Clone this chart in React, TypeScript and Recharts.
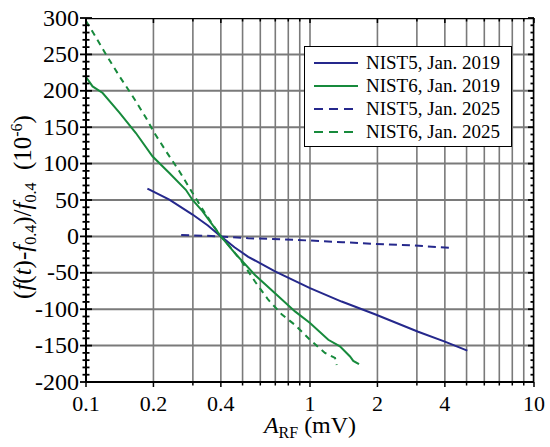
import React from "react";
import { LineChart, Line, XAxis, YAxis, CartesianGrid } from "recharts";

// ---- data ----
const nist5_2019 = [
  { x: 0.188, y: 65.7 }, { x: 0.2355, y: 50.5 }, { x: 0.299, y: 30 }, { x: 0.35, y: 15 },
  { x: 0.4, y: 0 }, { x: 0.46, y: -15 }, { x: 0.53, y: -28 }, { x: 0.698, y: -48 },
  { x: 1.0, y: -71 }, { x: 1.384, y: -89.5 }, { x: 1.95, y: -107 }, { x: 3.04, y: -131 },
  { x: 4.0, y: -144.5 }, { x: 5.04, y: -157 },
];
const nist6_2019 = [
  { x: 0.1, y: 219 }, { x: 0.107, y: 206 }, { x: 0.1187, y: 197 }, { x: 0.141, y: 170 },
  { x: 0.167, y: 142 }, { x: 0.198, y: 110 }, { x: 0.2355, y: 87 }, { x: 0.279, y: 64 },
  { x: 0.299, y: 50 }, { x: 0.331, y: 34.6 }, { x: 0.4, y: 0 }, { x: 0.462, y: -23 },
  { x: 0.568, y: -53 }, { x: 0.698, y: -78 }, { x: 0.857, y: -103 }, { x: 1.0, y: -119 },
  { x: 1.207, y: -142 }, { x: 1.36, y: -151 }, { x: 1.509, y: -165 }, { x: 1.56, y: -171 },
  { x: 1.655, y: -175.6 },
];
const nist5_2025 = [
  { x: 0.266, y: 2 }, { x: 0.33, y: 1 }, { x: 0.4, y: 0 }, { x: 0.53, y: -2.5 },
  { x: 0.75, y: -4 }, { x: 1.0, y: -5.7 }, { x: 1.4, y: -8 }, { x: 1.95, y: -10.3 },
  { x: 2.94, y: -12.6 }, { x: 4.29, y: -15.8 },
];
const nist6_2025 = [
  { x: 0.1, y: 296 }, { x: 0.111, y: 273 }, { x: 0.1228, y: 250 }, { x: 0.141, y: 220 },
  { x: 0.1615, y: 192.6 }, { x: 0.1852, y: 163 }, { x: 0.202, y: 142 }, { x: 0.2277, y: 117 },
  { x: 0.261, y: 89.5 }, { x: 0.299, y: 59.7 }, { x: 0.343, y: 30 }, { x: 0.4, y: 0 },
  { x: 0.432, y: -11.7 }, { x: 0.496, y: -34.6 }, { x: 0.568, y: -62 }, { x: 0.651, y: -87 },
  { x: 0.747, y: -107 }, { x: 0.857, y: -121.6 }, { x: 1.0, y: -142 }, { x: 1.166, y: -160 },
  { x: 1.293, y: -167 }, { x: 1.316, y: -176.5 },
];

const X_ALL = [0.1, 0.2, 0.3, 0.4, 0.5, 0.6, 0.7, 0.8, 0.9, 1, 2, 3, 4, 5, 6, 7, 8, 9, 10];
const X_LABELS = [0.1, 0.2, 0.4, 1, 2, 4, 10];
const X_DOMAIN = [0.1, 10];
const Y_DOMAIN = [-200, 300];
const Y_LABELS = [-200, -150, -100, -50, 0, 50, 100, 150, 200, 250, 300];
const Y_GRID = [-150, -100, -50, 0, 50, 100, 150, 200, 250];
const Y_ALL = Array.from({ length: 51 }, (_, i) => -200 + i * 10);

// layout
const W = 550;
const H = 447;
const MARGIN = { top: 18, right: 16, bottom: 0, left: 0 };
const Y_AXIS_W = 86;
const X_AXIS_H = 65;
const PLOT_W = W - MARGIN.left - MARGIN.right - Y_AXIS_W;
const PLOT_H = H - MARGIN.top - MARGIN.bottom - X_AXIS_H;

const BLUE = "#25288c";
const GREEN = "#178a3c";
const GRID = "#7a7a7a";
const FONT = "Liberation Serif, Tinos, Times New Roman, DejaVu Serif, serif";

const SERIES = [
  { name: "NIST5, Jan. 2019", data: nist5_2019, color: BLUE, dash: undefined as string | undefined },
  { name: "NIST6, Jan. 2019", data: nist6_2019, color: GREEN, dash: undefined as string | undefined },
  { name: "NIST5, Jan. 2025", data: nist5_2025, color: BLUE, dash: "8 5" },
  { name: "NIST6, Jan. 2025", data: nist6_2025, color: GREEN, dash: "6 5" },
];

// horizontal grid rows and frame edges as two-point series through the chart's scales
const GRID_ROWS = Y_GRID.map((v) => ({ key: `g${v}`, data: X_DOMAIN.map((x) => ({ x, y: v })) }));
const FRAME_TOP = X_DOMAIN.map((x) => ({ x, y: Y_DOMAIN[1] }));
const FRAME_RIGHT = Y_DOMAIN.map((y) => ({ x: X_DOMAIN[1], y }));

const isMajorY = (v: number) => Y_LABELS.includes(v);
const isMajorX = (v: number) => X_LABELS.includes(v);

const LeftTick = (props: any) => {
  const { x, y, payload } = props;
  const v = payload.value;
  const major = isMajorY(v);
  const len = major ? 6 : 3.5;
  return (
    <g>
      <line x1={x - len} x2={x + len} y1={y} y2={y} stroke="#000" strokeWidth={1.8} />
      <line x1={x + PLOT_W - len} x2={x + PLOT_W} y1={y} y2={y} stroke="#000" strokeWidth={1.8} />
      {major && (
        <text x={x - 7} y={y} dy={7.5} textAnchor="end" style={{ fontFamily: FONT }} fontSize={24} fill="#000">
          {v}
        </text>
      )}
    </g>
  );
};

const BottomTick = (props: any) => {
  const { x, y, payload } = props;
  const v = payload.value;
  const major = isMajorX(v);
  const len = major ? 5 : 3.5;
  return (
    <g>
      <line x1={x} x2={x} y1={y} y2={y + len} stroke="#000" strokeWidth={1.5} />
      <line x1={x} x2={x} y1={y - PLOT_H} y2={y - PLOT_H + len} stroke="#000" strokeWidth={1.5} />
      {major && (
        <text x={x} y={y} dy={28.5} textAnchor="middle" style={{ fontFamily: FONT }} fontSize={22} fill="#000">
          {v}
        </text>
      )}
    </g>
  );
};

const YTitle = (props: any) => {
  const vb = props.viewBox;
  const cx = vb.x + 31;
  const cy = vb.y + vb.height / 2 + 7;
  return (
    <text
      transform={`translate(${cx},${cy}) rotate(-90)`}
      textAnchor="middle"
      fontSize={25}
      fill="#000"
      style={{ whiteSpace: "pre", fontFamily: FONT }}
    >
      <tspan>(</tspan>
      <tspan fontStyle="italic">f</tspan>
      <tspan>(</tspan>
      <tspan fontStyle="italic">t</tspan>
      <tspan>)-</tspan>
      <tspan fontStyle="italic">f</tspan>
      <tspan fontSize={16} dy={5}>0.4</tspan>
      <tspan dy={-5}>)/</tspan>
      <tspan fontStyle="italic">f</tspan>
      <tspan fontSize={16} dy={5}>0.4</tspan>
      <tspan dy={-5}>{"  (10"}</tspan>
      <tspan fontSize={16} dy={-9}>-6</tspan>
      <tspan dy={9}>)</tspan>
    </text>
  );
};

const XTitle = (props: any) => {
  const vb = props.viewBox;
  const cx = vb.x + vb.width / 2;
  const by = vb.y + 51;
  return (
    <text x={cx} y={by} textAnchor="middle" fontSize={24} fill="#000" style={{ whiteSpace: "pre", fontFamily: FONT }}>
      <tspan fontStyle="italic">A</tspan>
      <tspan fontSize={16} dy={5}>RF</tspan>
      <tspan dy={-5}>{" (mV)"}</tspan>
    </text>
  );
};

const LegendBox = () => (
  <div
    style={{
      position: "absolute",
      left: 304,
      top: 46,
      width: 208,
      height: 101,
      boxSizing: "border-box",
      border: "1.5px solid #000",
      background: "#fff",
      paddingTop: 4,
      fontFamily: FONT,
      fontSize: 19,
      color: "#000",
    }}
  >
    {SERIES.map((s) => (
      <div key={s.name} style={{ position: "relative", height: 23, lineHeight: "23px" }}>
        <svg width={46} height={6} style={{ position: "absolute", left: 8, top: 9 }}>
          <line x1={1} x2={45} y1={3} y2={3} stroke={s.color} strokeWidth={2} strokeDasharray={s.dash ? "9 6" : undefined} />
        </svg>
        <span style={{ position: "absolute", left: 61, top: 0, whiteSpace: "nowrap" }}>{s.name}</span>
      </div>
    ))}
  </div>
);

export default function App() {
  return (
    <div style={{ position: "absolute", left: 0, top: 0, width: W, height: H, background: "#fff" }}>
      <LineChart width={W} height={H} margin={MARGIN}>
        <CartesianGrid stroke={GRID} strokeWidth={1.6} horizontal={false} />
        <XAxis
          dataKey="x"
          type="number"
          scale="log"
          domain={X_DOMAIN}
          ticks={X_ALL}
          interval={0}
          allowDataOverflow
          height={X_AXIS_H}
          tickSize={0}
          tickMargin={0}
          tickLine={false}
          axisLine={{ stroke: "#000", strokeWidth: 2 }}
          tick={<BottomTick />}
          label={{ content: <XTitle /> } as any}
        />
        <YAxis
          type="number"
          domain={Y_DOMAIN}
          ticks={Y_ALL}
          interval={0}
          allowDataOverflow
          width={Y_AXIS_W}
          tickSize={0}
          tickMargin={0}
          tickLine={false}
          axisLine={{ stroke: "#000", strokeWidth: 2 }}
          tick={<LeftTick />}
          label={{ content: <YTitle /> } as any}
        />
        {GRID_ROWS.map((g) => (
          <Line
            key={g.key}
            data={g.data}
            dataKey="y"
            type="linear"
            stroke={GRID}
            strokeWidth={2}
            dot={false}
            activeDot={false}
            isAnimationActive={false}
          />
        ))}
        <Line data={FRAME_TOP} dataKey="y" stroke="#000" strokeWidth={2.5} dot={false} activeDot={false} isAnimationActive={false} />
        <Line data={FRAME_RIGHT} dataKey="y" stroke="#000" strokeWidth={2.5} dot={false} activeDot={false} isAnimationActive={false} />
        {SERIES.map((s) => (
          <Line
            key={s.name}
            data={s.data}
            dataKey="y"
            type="linear"
            stroke={s.color}
            strokeWidth={2}
            strokeDasharray={s.dash}
            dot={false}
            activeDot={false}
            isAnimationActive={false}
          />
        ))}
      </LineChart>
      <LegendBox />
    </div>
  );
}
